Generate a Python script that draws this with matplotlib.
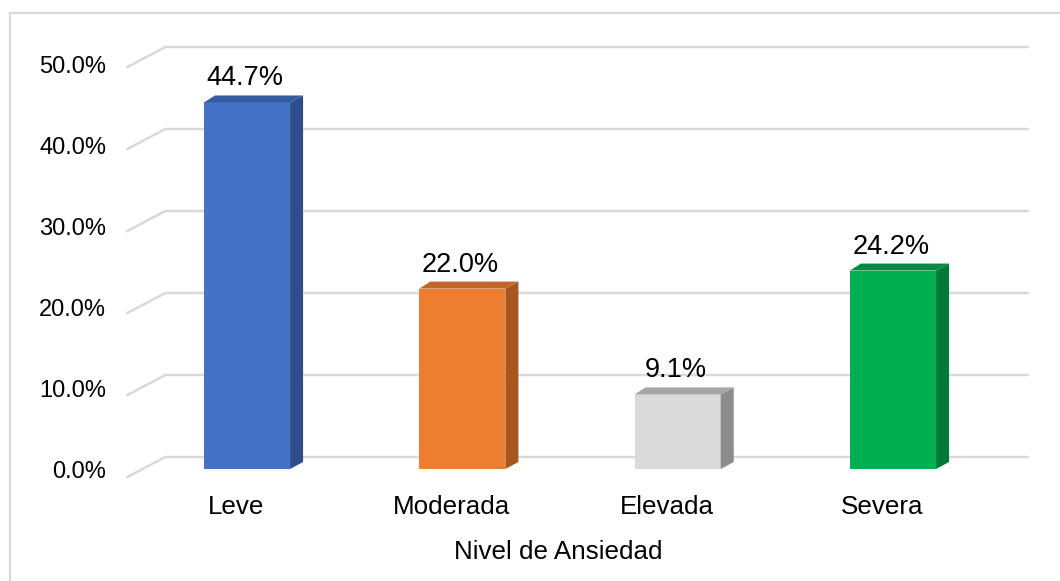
import matplotlib
matplotlib.use('Agg')
import matplotlib.pyplot as plt
from matplotlib.lines import Line2D
from matplotlib.patches import Polygon, Rectangle
from matplotlib.transforms import ScaledTranslation

categories = ['Leve', 'Moderada', 'Elevada', 'Severa']
values = [44.7, 22.0, 9.1, 24.2]
ticks = [0, 10, 20, 30, 40, 50]
axis_title = 'Nivel de Ansiedad'

front_colors = ['#4472C4', '#ED7D31', '#DADADA', '#00B050']
side_colors = ['#2E4D8C', '#A8561F', '#8C8C8C', '#007A38']
top_colors = ['#355BA3', '#C2662A', '#A6A6A6', '#008A40']
grid_color = '#D9D9D9'

plt.rcParams['font.family'] = ['Liberation Sans', 'DejaVu Sans']

W, H = 1060, 581
fig = plt.figure(figsize=(W / 100, H / 100), dpi=100)
ax = fig.add_axes([139.35 / W, 112 / H, 861.3 / W, 410 / H])
ax.set_xlim(-0.5, 3.5)
ax.set_ylim(0, 50)
ax.axis('off')
ax.patch.set_visible(False)


def px(dx, dy):
    # shift in pixels
    return ScaledTranslation(dx / 100, dy / 100, fig.dpi_scale_trans)


def to_fig(x, y, dx=0, dy=0):
    # data point + pixel offset -> figure fraction
    X, Y = ax.transData.transform((x, y))
    return ((X + dx) / W, (Y + dy) / H)


# depth of the floor / back wall and of the columns (pixels)
front_off = (-12, -8)
back_off = (26, 12)
bar_depth = (13, 7)

# outer frame
fig.add_artist(Rectangle((10 / W, -0.05), 1.1, 568 / H + 0.05, transform=fig.transFigure,
                         fill=False, ec=grid_color, lw=1.6))

# gridlines: diagonal on the side wall, then flat along the back wall
x0, x1 = ax.get_xlim()
for v in ticks:
    pts = [to_fig(x0, v, *front_off), to_fig(x0, v, *back_off), to_fig(x1, v, back_off[0] + 1, back_off[1])]
    ax.add_line(Line2D([p[0] for p in pts], [p[1] for p in pts], transform=fig.transFigure,
                       color=grid_color, lw=1.8, clip_on=False, zorder=1))
    # front axis is a touch shorter than the back wall
    ax.text(x0, v, f'{v:.1f}%', transform=ax.transData + px(-33, -9 - 0.1 * v),
            ha='right', va='baseline', fontsize=17, color='#000000')

# columns
xs = list(range(len(categories)))
width = 0.4
ax.bar(xs, values, width=width, color=front_colors, zorder=3, clip_on=False)
dx, dy = bar_depth
for i, v in enumerate(values):
    xl, xr = i - width / 2, i + width / 2
    side = [to_fig(xr, 0), to_fig(xr, v), to_fig(xr, v, dx, dy), to_fig(xr, 0, dx, dy)]
    top = [to_fig(xl, v), to_fig(xr, v), to_fig(xr, v, dx, dy), to_fig(xl, v, dx - 2, dy)]
    ax.add_patch(Polygon(side, closed=True, transform=fig.transFigure, fc=side_colors[i],
                         ec='none', zorder=3, clip_on=False))
    ax.add_patch(Polygon(top, closed=True, transform=fig.transFigure, fc=top_colors[i],
                         ec='none', zorder=3, clip_on=False))
    ax.text(i, v, f'{v:.1f}%', transform=ax.transData + px(-2, 17),
            ha='center', va='baseline', fontsize=19.5, color='#000000')
    ax.text(i, 0, categories[i], transform=ax.transData + px(-11, -45),
            ha='center', va='baseline', fontsize=18.7, color='#000000')

ax.text(0.5, 0, axis_title, transform=ax.transAxes + px(-12, -90),
        ha='center', va='baseline', fontsize=18.7, color='#000000')

fig.savefig('out.png', dpi=100)
